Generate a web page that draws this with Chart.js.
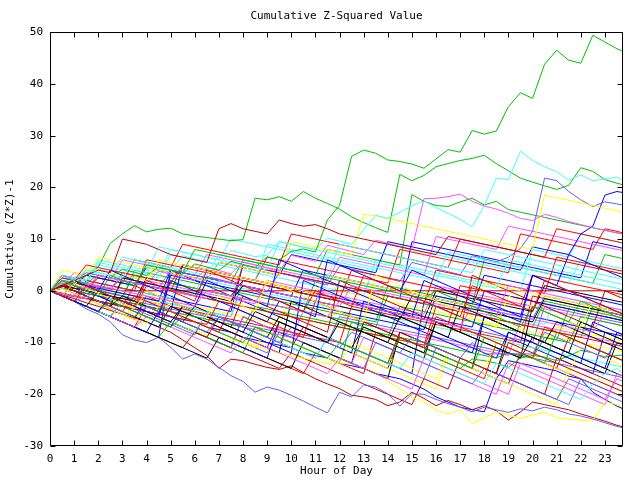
<!DOCTYPE html>
<html>
<head>
<meta charset="utf-8">
<script src="https://cdn.jsdelivr.net/npm/chart.js@4.4.1/dist/chart.umd.min.js"></script>
<style>
html, body { margin: 0; background: #fff; }
#wrap { width: 640px; height: 480px; }
</style>
</head>
<body>
<div id="wrap"><canvas id="chart" width="640" height="480"></canvas></div>
<script>
// x positions: half-hour samples (and hourly for the flat one)
const halfHours = [0,0.5,1,1.5,2,2.5,3,3.5,4,4.5,5,5.5,6,6.5,7,7.5,8,8.5,9,9.5,10,10.5,11,11.5,
                   12,12.5,13,13.5,14,14.5,15,15.5,16,16.5,17,17.5,18,18.5,19,19.5,20,20.5,21,21.5,
                   22,22.5,23,23.5,23.75];
const hours = [0,1,2,3,4,5,6,7,8,9,10,11,12,13,14,15,16,17,18,19,20,21,22,23,23.75];
const xTicks = [0,1,2,3,4,5,6,7,8,9,10,11,12,13,14,15,16,17,18,19,20,21,22,23];

// prominent walks
const greenTop = [0,1.2,2.0,1.4,3.1,2.5,4.2,3.6, 3.0,4.6,4.0,3.4,5.2,4.6,4.0,5.7, 5.1,4.5,6.6,6.0,7.6,8.1,7.5,13.7,
                  16.5,26.0,27.2,26.6,25.3,25.0,24.5,23.7, 25.5,27.3,26.8,31.0,30.3,30.9,35.6,38.3, 37.2,43.8,46.5,44.6,44.0,49.4,48.1,46.8, 46.3];
const greenHigh = [0,2.0,1.4,3.0,4.6,9.2,11.0,12.6, 11.4,11.9,12.1,11.0,10.6,10.3,10.0,9.7, 9.9,17.9,17.6,18.2,17.3,19.2,17.9,16.9,
                   15.8,14.3,13.2,12.2,11.3,22.5,21.3,22.3, 24.0,24.6,25.2,25.6,26.2,24.6,23.2,21.8, 21.0,20.3,19.6,20.4,23.8,23.1,21.5,20.8, 20.5];
const cyanHigh = [0,1.5,2.6,2.0,4.2,3.6,6.5,6.0, 5.2,4.5,4.0,6.8,6.2,5.6,5.0,7.8, 7.2,6.6,6.9,9.5,9.0,8.4,8.0,10.2,
                  9.6,9.0,11.8,14.6,14.0,15.2,16.4,17.4, 16.1,15.0,13.8,12.4,16.5,21.8,21.5,27.0, 25.2,24.0,23.0,21.4,22.4,21.3,21.6,22.0, 21.4];
const slateHigh = [0,-0.6,-1.2,0.8,0.2,-0.4,-1.0,-1.6, 1.5,0.9,0.3,-0.3,-0.9,2.8,2.2,1.6, 1.0,0.4,-0.2,3.5,2.9,2.3,1.7,1.1,
                   4.8,4.2,3.6,3.0,2.4,1.8,5.5,4.9, 4.3,3.7,3.1,6.8,6.2,5.6,6.5,8.2, 11.5,21.8,21.3,19.2,17.6,16.3,17.2,16.8, 16.6];
const magentaHigh = [0,-0.5,-1.0,1.4,0.8,0.2,2.6,2.0, 1.4,3.8,3.2,2.6,2.0,4.5,3.9,3.3, 5.6,5.0,4.4,3.8,6.9,6.3,5.7,8.8,
                     8.2,7.6,7.0,9.8,9.2,8.6,8.0,17.8, 17.9,18.2,18.7,17.3,16.4,15.8,15.0,14.0, 13.6,14.8,14.2,13.4,12.8,12.2,11.7,11.2, 11.0];
const slateLow = [0,-1,-2,-3.5,-4.5,-6,-8.5,-9.5, -10,-9,-10.9,-13.2,-12.2,-13.2,-14.8,-16.4, -17.5,-19.6,-18.6,-19.2,-20.2,-21.3,-22.5,-23.6,
                  -19.6,-20.5,-18.2,-18.6,-19.9,-22.3,-19.9,-20.0, -21,-21.8,-22.5,-23.4,-22.5,-23,-23.5,-22.8, -23.2,-22.5,-23,-23.8,-24.2,-24.8,-25.5,-26.2, -26.5];
const darkredLow = [0,-0.8,-1.5,-2.3,-3,-3.8,-4.5,-5.2, -6,-7,-8,-9.5,-11,-12.5,-15,-13.2, -13.5,-14.2,-14.8,-15.2,-14.5,-15.8,-17,-18,
                    -18.9,-20.2,-20.5,-21,-22.2,-21.5,-19.6,-20.8, -22.2,-21.2,-22,-23,-22.2,-23.2,-25,-23.4, -21.5,-22,-22.5,-23,-23.8,-24.5,-25.2,-26, -26.3];
const yellowLow = [0,-0.5,-1,-1.5,-2.5,-3,-4,-4.5, -5,-6,-6.5,-7,-7.5,-8.5,-9,-9.5, -10,-10.5,-11.5,-12,-12.5,-13,-13.5,-14.1,
                   -14.1,-14.1,-15,-15.7,-17.5,-18.9,-20.5,-21.5, -23,-23.8,-23,-25.7,-24.5,-23.4,-24,-24.7, -24,-23.5,-24.5,-24.8,-25,-25.2,-21.5,-22, -22.5];
const blueLow = [0,-0.5,-1,-1.5,-2,-2.5,-3,-3.5, -4,-4.5,-5,-5.5,-6,-7,-7.5,-8, -9,-9.5,-10,-10.5,-11,-12,-12.5,-13,
                 -14,-14.5,-15,-16,-16.5,-17,-18,-19, -20.5,-21.5,-22.5,-23,-23.4,-17,-13.5,-14, -14.5,-15,-15.5,-16.5,-17,-19.6,-21,-22.3, -22.8];
const darkredFlat = [0,1.5,0.8,0,0,0,0,0,0,0,0,0,0,0,0,0,0,0,0,0,0,0,0,0,0];

// the rest of the walks
const red1 = [0,-1,-2,1,0,-1,-2,-3, 2,1,0,-1,-2,4,3,2, 1,0,-1,-2,-3,-4,0,-1, -2,-3,3,2,1,0,-1,-2, -3,-4,-5,1,0,-1,-2,-3, -4,2,1,0,-1,-2,-3,-4, -4.5];
const green1 = [0,2,1,0,-1,3,2,1, 5,4.5,4,3.5,8,7.5,7,6.5, 6,5.5,5,4.5,4,3.5,3,2.5, 2,1.5,1,0.5,0,-0.5,-1,-1.5, 0,-1,-2,-3,-4,-5,-6,-7, -3,-4,-5,-6,-2,-3,-4,-5, -5.5];
const blue1 = [0,-1,-2,-3,-4,-1,-2,-3, -4,-5,2,1,0,-1,-2,-3, -4,-5,-6,-2,-3,-4,-5,6, 5,4,3,2,1,0,4,3, 2,1,0,-1,-2,-3,-4,-5, 3,2,1,0,-1,-2,-3,-4, -4.5];
const magenta1 = [0,-0.5,-1,-1.5,1,0.5,0,-0.5, -1,-1.5,-2,-2.5,-3,0,-0.5,-1, -1.5,-2,-2.5,-3,-3.5,-4,-4.5,-5, -2,-2.5,-3,-3.5,-4,-4.5,-5,-5.5, -6,-6.5,-7,-3,-3.5,-4,-4.5,-5, -5.5,-6,-6.5,-7,-7.5,-8,-4,-4.5, -4.8];
const cyan1 = [0,3,2,4,3.5,3,2.5,6, 5.5,5,4.5,4,3.5,3,7,6.5, 6,5.5,5,4.5,4,3.5,3,2.5, 9,8.5,8,7.5,7,6.5,6,5.5, 5,4.5,4,3.5,8,7.5,7,6.5, 6,5.5,5,4.5,4,3.5,3,2.5, 2.2];
const yellow1 = [0,-1,1.5,0.5,-0.5,-1.5,-2.5,-3.5, 0,-1,-2,-3,-4,-5,-1,-2, -3,-4,2,1,0,-1,-2,-3, -4,-5,-6,3,2,1,0,-1, -2,-3,-4,-5,-6,-7,-1,-2, -3,-4,-5,-6,-7,-2,-3,-4, -4.5];
const black1 = [0,-1,-2,-3,0,-1,-2,-3, -4,-5,-6,-3,-4,-5,-6,-7, -8,-4,-5,-6,-7,-8,-9,-10, -6,-7,-8,-9,-10,-5,-6,-7, -8,-9,-3,-4,-5,-6,-7,-8, -9,-10,-6,-7,-8,-9,-10,-11, -11.5];
const darkred1 = [0,1,2,3,4,3.5,10,9.5, 9,8,7,6.5,6,5.5,12,13, 12,11.5,11,13.7,13,12.5,12.8,12, 11,10.5,10,9.5,9,8.5,8,7.5, 7,10.5,10,9.5,9,8.5,8,7.5, 7,6.5,6,5.5,5,4.5,4,3.5, 3.2];
const slate1 = [0,-1,-2,-1,-2,-3,-4,-5, -3,-4,-5,-6,-7,-8,-5,-6, -7,-8,-9,-10,-7,-8,-9,-10, -11,-8,-9,-10,-11,-12,-9,-10, -11,-12,-13,-10,-12.2,-12.2,-12.2,-12.2, -12.2,-8,-9,-10,-11,-12,-13,-10, -10.5];
const red2 = [0,1,0,-1,-2,-3,-4,-1, -2,-3,-4,-5,-6,-7,-8,-3, -4,-5,-6,-7,-8,-9,-2,-3, -4,-5,-6,-7,-8,-9,-10,-11, -5,-6,-7,-8,-9,-10,-11,-12, -13,-7,-8,-9,-10,-11,-12,-13, -13.5];
const green2 = [0,-1,-2,-3,-4,-2,-3,-4, -5,-6,-7,-5,-6,-7,-8,-9, -10,-7,-8,-9,-10,-11,-12,-13, -10,-11,-12,-13,-14,-9,-10,-11, -12,-13,-14,-15,-9,-10,-11,-12, -13,-14,-8,-9,-10,-11,-12,-13, -13.5];
const blue2 = [0,3,2,1,0,4,3,2, 1,0,-1,-2,-3,2,1,0, -1,-2,-3,6,5,4,3,2, 1,0,-1,-2,-3,-4,-5,2, 1,0,-1,-2,-3,-4,-5,-6, 3,2,1,7,6,5,4,3, 2.5];
const magenta2 = [0,1.5,1,0.5,3,2.5,2,1.5, 1,0.5,0,-0.5,-1,-1.5,2,1.5, 1,0.5,0,-0.5,-1,-1.5,-2,-2.5, -3,1,0.5,0,-0.5,-1,-1.5,-2, -2.5,-3,-3.5,-4,-4.5,-5,1,0.5, 0,-0.5,-1,-1.5,-2,-2.5,-3,-3.5, -3.8];
const cyan2 = [0,-1,-2,-3,-4,-5,-2,-3, -4,-5,-6,-7,-8,-4,-5,-6, -7,-8,-9,-10,-11,-12,-13,-9, -10,-11,-12,-13,-14,-15,-12,-13, -14,-15,-16,-17,-18,-14,-15,-16, -17,-18,-19,-20,-21,-18,-16,-15, -16];
const yellow2 = [0,2,1,4.5,4,3.5,3,2.5, 2,6,5.5,5,4.5,4,3.5,3, 2.5,2,1.5,1,0.5,0,-0.5,3, 2.5,2,1.5,1,0.5,0,-0.5,-1, -1.5,-2,-2.5,-3,1.5,1,0.5,0, -0.5,-1,-1.5,-2,-2.5,-3,-3.5,-4, -4.2];
const black2 = [0,1,0,-1,-2,-3,-1,-2, -3,-4,-5,-6,-3,-4,-5,-6, -7,-8,-9,-5,-6,-7,-8,-9, -10,-11,-7,-8,-9,-10,-11,-12, -6,-7,-8,-9,-10,-11,-12,-13, -9,-10,-11,-12,-6,-7,-8,-9, -9.5];
const darkred2 = [0,-1,-2,-3,-4,-5,-2,-3, -4,-5,-6,-7,-8,-9,-5,-6, -7,-8,-9,-10,-11,-7,-8,-9, -10,-11,-12,-13,-14,-8,-9,-10, -11,-12,-13,-14,-15,-16,-10,-11, -12,-13,-14,-15,-16,-17,-18,-19, -19.5];
const slate2 = [0,1,2,3.5,3,2.5,2,1.5, 1,0.5,4,3.5,3,2.5,2,1.5, 1,0.5,0,-0.5,-1,-1.5,-2,3, 2.5,2,1.5,1,0.5,0,-0.5,-1, -1.5,-2,-2.5,-3,-3.5,-4,-4.5,-5, -5.5,-1,-1.5,-2,-2.5,-3,-3.5,-4, -4.3];
const red3 = [0,-0.5,-1,-1.5,-2,-2.5,-3,-3.5, -4,-4.5,-5,-5.5,-6,-6.5,-2,-2.5, -3,-3.5,-4,-4.5,-5,-5.5,-6,-6.5, -7,-7.5,-8,-8.5,-9,-9.5,-10,-10.5, -3,-3.5,-4,-4.5,-5,-5.5,-6,-6.5, -7,-7.5,-8,-8.5,-9,-9.5,-10,-10.5, -10.8];
const blue3 = [0,2,1,0,-1,-2,-3,-4, -5,-6,-7,-3,-4,-5,-6,-7, -8,-9,-10,-11,-12,2,1,0, -1,-2,-3,-4,-5,-6,-7,-8, -9,-10,-11,-12,-5,-6,-7,-8, -9,-10,-11,-12,-13,-14,-15,-8, -8.5];
const green3 = [0,0.5,0,-0.5,-1,-1.5,-2,-2.5, -3,-3.5,-4,-4.5,-5,-5.5,-6,-6.5, -7,-3,-3.5,-4,-4.5,-5,-5.5,-6, -6.5,-7,-7.5,-8,-8.5,-9,-9.5,-10, -10.5,-11,-11.5,-12,-12.5,-13,-12,-12.5, -13,-9,-9.5,-10,-5,-5.5,-6,-6.5, -6.8];
const magenta3 = [0,-1,-2,-3,-4,-5,-6,-7, -5,-6,-7,-8,-9,-10,-11,-12, -9,-10,-11,-12,-13,-14,-15,-16, -13,-14,-15,-16,-17,-18,-19,-13, -14,-15,-16,-17,-18,-19,-20,-14, -15,-16,-17,-18,-19,-20,-21,-17, -17.5];
const cyan3 = [0,3,2.5,2,5.5,5,4.5,4, 3.5,8.5,8,7.5,7,6.5,6,5.5, 5,4.5,4,9.5,9,8.5,8,7.5, 7,6.5,6,5.5,5,4.5,4,3.5, 3,2.5,2,1.5,1,0.5,6,5.5, 5,4.5,4,3.5,3,2.5,2,1.5, 1.2];
const yellow3 = [0,0.5,-0.5,-1.5,-2.5,-3.5,-4.5,-5.5, -6.5,-3,-4,-5,-6,-7,-8,-9, -10,-11,-8,-9,-10,-11,-12,-13, -14,-10,-11,-12,-13,-14,-15,-16, -17,-12,-13,-14,-15,-10,-11,-12, -13,-14,-15,-16,-11,-12,-13,-14, -14.5];
const black3 = [0,1,0,-1,-2,-3,2.5,2, 1.5,1,0.5,0,-0.5,-1,-1.5,-2, 1,0.5,0,-0.5,-1,-1.5,-2,-2.5, -3,-3.5,-4,-4.5,-5,-5.5,-1,-1.5, -2,-2.5,-3,-3.5,-4,-4.5,-5,-5.5, -6,-1.5,-2,-2.5,-3,-3.5,-4,-4.5, -4.8];
const darkred3 = [0,2,1,0,-1,-2,-3,1, 0,-1,-2,-3,-4,-5,-6,-7, -1,-2,-3,-4,-5,-6,-7,-8, 2,1,0,-1,-2,-3,-4,-5, -6,-7,-8,3,2,1,0,-1, -2,-3,-4,-5,-6,-7,0,-1, -1.5];
const slate3 = [0,-1,-2,0.5,-0.5,-1.5,-2.5,-3.5, -4.5,-5.5,-6.5,-7.5,-8.5,-4,-5,-6, -7,-8,-9,-10,-11,-12,-13,-9, -10,-11,-12,-13,-14,-15,-16,-17, -11,-12,-13,-14,-15,-16,-17,-18, -19,-20,-21,-17,-18,-19,-20,-21, -21.5];
const red4 = [0,2.5,2,5,4.5,4,3.5,3, 2.5,2,1.5,5,4.5,4,3.5,3, 2.5,2,1.5,1,0.5,0,-0.5,-1, -1.5,4,3.5,3,2.5,2,1.5,1, 0.5,0,-0.5,-1,-1.5,-2,-2.5,-3, 3,2.5,2,1.5,1,0.5,0,-0.5, -0.8];
const blue4 = [0,-1,-2,-3,-4,-5,-6,-7, -8,-4,-5,-6,-7,-8,-9,-10, -11,-12,-13,-6,-7,-8,-9,-10, -11,-12,-2,-3,-4,-5,-6,-7, -8,-9,-10,-11,-12,-13,-8,-9, -10,-11,-12,-13,-14,-6,-7,-8, -8.5];
const green4 = [0,-1,-2,-3,-4,-5,-6,-7, -8,-9,-6,-7,-8,-9,-10,-11, -12,-7,-8,-9,-10,-11,-12,-13, -14,-6,-7,-8,-9,-10,-11,-12, -13,-14,-15,-13.2,-13.5,-14,-14.8,-13, -12.5,-12.8,-13.5,-12.6,-11.5,-12,-12.8,-12.5, -12.4];
const magenta4 = [0,2.5,2,1.5,1,0.5,3,2.5, 2,1.5,1,0.5,0,-0.5,-1,-1.5, -2,-2.5,2,1.5,1,0.5,0,-0.5, -1,-1.5,-2,-2.5,-3,-3.5,-4,-4.5, 1,0.5,0,-0.5,-1,-1.5,-2,-2.5, -3,-3.5,-4,-4.5,-5,-5.5,-6,-6.5, -6.8];
const cyan4 = [0,1.5,1,4,3.5,3,2.5,2, 1.5,1,0.5,0,-0.5,4,3.5,3, 2.5,2,9,8.5,8,7.5,7,6.5, 6,5.5,5,4.5,4,3.5,3,2.5, 2,7.5,7,6.5,6,5.5,5,4.5, 4,3.5,3,2.5,2,1.5,1,0.5, 0.2];
const yellow4 = [0,4,3.5,3,6.5,6,5.5,5, 4.5,4,3.5,3,2.5,2,5.5,5, 4.5,4,3.5,3,9.5,9,8.5,8, 7.5,7,14.8,14.5,14,13.5,13,12.5, 12,11.5,11,10.5,10,9.5,9,8.5, 8,18.5,18,17.5,17,16.5,16,15.5, 15.2];
const black4 = [0,-1,-2,-3,-4,-5,-6,-7, -8,-9,-10,-11,-12,-13,-9,-10, -11,-12,-13,-14,-15,-10,-11,-12, -13,-14,-15,-16,-17,-8,-9,-10, -11,-12,-13,-14,-15,-16,-8,-9, -10,-11,-12,-13,-14,-15,-16,-10, -10.5];
const darkred4 = [0,-1,-2,-3,-4,-5,-6,-7, -8,-9,-10,-11,-8,-9,-10,-11, -12,-13,-14,-15,-12,-13,-14,-15, -16,-17,-18,-19,-20,-21,-22,-17, -18,-19,-13,-14,-15,-16,-17,-18, -19,-20,-13,-14,-15,-16,-17,-18, -18.5];
const slate4 = [0,1,0,-1,-2,-3,-4,-5, -2,-3,-4,-5,-6,-7,-8,-9, -10,-11,-12,-8,-9,-10,-11,-12, -13,-14,-15,-10,-11,-12,-13,-14, -15,-16,-17,-18,-15,-16,-17,-18, -19,-20,-21,-22,-17,-18,-19,-20, -20.5];
const red5 = [0,-0.5,-1,-1.5,-2,-2.5,-3,-3.5, 1,0.5,0,-0.5,-1,-1.5,-2,-2.5, 5,4.5,4,3.5,3,2.5,2,1.5, 1,0.5,0,-0.5,-1,-1.5,-2,-2.5, 4,3.5,3,2.5,2,1.5,1,0.5, 0,-0.5,6.5,6,5.5,5,4.5,4, 3.8];
const blue5 = [0,0.5,0,-0.5,-1,-1.5,-2,-2.5, -3,-3.5,-4,5,4.5,4,3.5,3, 2.5,2,1.5,1,0.5,0,-0.5,-1, -1.5,-2,-2.5,-3,-3.5,-4,-4.5,-5, -5.5,-6,-6.5,-7,0,-0.5,-1,-1.5, -2,-2.5,-3,-3.5,-4,-4.5,-5,-5.5, -5.8];
const green5 = [0,1.5,1,0.5,0,-0.5,-1,3, 2.5,2,1.5,1,0.5,0,-0.5,-1, -1.5,-2,-2.5,-3,-3.5,-4,-4.5,-5, -5.5,-6,-6.5,-7,-1,-1.5,-2,-2.5, -3,-3.5,-4,-4.5,-5,-5.5,-6,-6.5, -7,-7.5,-8,-8.5,-9,-3,-3.5,-4, -4.2];
const magenta5 = [0,-1,-2,-3,-4,-1,-2,-3, -4,-5,-6,-7,-8,-9,-10,-11, -5,-6,-7,-8,-9,-10,-11,-12, -13,-14,-9,-10,-11,-12,-13,-14, -15,-16,-17,-18,-19,-20,-14,-15, -16,-17,-18,-19,-20,-21,-22,-16, -16.5];
const cyan5 = [0,2,1.5,1,0.5,0,-0.5,-1, -1.5,-2,-2.5,-3,-3.5,-4,-4.5,-5, 1,0.5,0,-0.5,-1,-1.5,-2,-2.5, -3,-3.5,-4,-4.5,-5,-5.5,-6,-6.5, -7,-7.5,-8,-8.5,-9,-9.5,-10,-10.5, -11,-11.5,-12,-12.5,-13,-13.5,-14,-14.5, -14.8];
const yellow5 = [0,-1,-2,-3,-4,-5,-6,-2, -3,-4,-5,-6,-7,-8,-9,-10, -11,-12,-5,-6,-7,-8,-9,-10, -11,-12,-13,-14,-15,-16,-17,-18, -19,-13,-14,-15,-16,-17,-18,-19, -20,-21,-22,-15,-16,-17,-18,-19, -19.5];
const black5 = [0,1,0,-1,-2,-3,-4,-5, -6,-7,-3,-4,-5,-6,-7,-8, -9,-10,-11,-12,-2,-3,-4,-5, -6,-7,-8,-9,-10,-11,-12,-13, -6,-7,-8,-9,-10,-11,-12,-13, -3,-4,-5,-6,-7,-8,-9,-10, -10.5];
const darkred5 = [0,0.5,-0.5,-1.5,-2.5,-3.5,-4.5,-5.5, -1,-2,-3,-4,-5,-6,-7,-8, -9,-10,-11,-6,-7,-8,-9,-10, -11,-12,-13,-14,-15,-9,-10,-11, -12,-13,-14,-15,-16,-17,-18,-12, -13,-14,-15,-9,-10,-11,-12,-13, -13.5];
const slate5 = [0,2,1.5,1,0.5,0,-0.5,-1, -1.5,-2,-2.5,-3,-3.5,-4,-4.5,-5, 2,1.5,1,0.5,0,-0.5,-1,-1.5, -2,-2.5,-3,-3.5,-4,-4.5,-5,-5.5, -6,-6.5,-7,-7.5,-8,-8.5,-9,-9.5, -10,-3,-3.5,-4,-4.5,-5,-5.5,-6, -6.2];
const red6 = [0,3,2.5,2,1.5,1,0.5,0, 6,5.5,5,4.5,4,3.5,3,2.5, 2,1.5,1,0.5,0,-0.5,-1,-1.5, -2,-2.5,-3,-3.5,-4,-4.5,-5,-5.5, -6,-6.5,1,0.5,0,-0.5,-1,-1.5, -2,-2.5,-3,-3.5,-4,-4.5,-5,-5.5, -5.8];
const blue6 = [0,-1,1.5,1,0.5,0,-0.5,-1, -1.5,-2,4,3.5,3,2.5,2,1.5, 1,0.5,0,-0.5,-1,4,3.5,3, 2.5,2,1.5,1,0.5,0,-0.5,-1, -1.5,-2,-2.5,-3,3,2.5,2,1.5, 1,0.5,0,-0.5,-1,-1.5,-2,-2.5, -2.8];
const blue7 = [0,1.5,1,3,2.5,2,1.5,1, 4.5,4,3.5,3,2.5,2,5.5,5, 4.5,4,3.5,3,7,6.5,6,5.5, 5,4.5,4,3.5,9.5,9,8.5,8, 7.5,7,6.5,6,5.5,5,4.5,4, 8.5,8,7.5,7,11,12.5,18.5,19.2, 19.0];
const green6 = [0,2,1.5,1,0.5,0,3.5,3, 2.5,2,1.5,1,0.5,0,-0.5,-1, -1.5,-2,-2.5,-3,-3.5,-4,2,1.5, 1,0.5,0,-0.5,-1,-1.5,-2,-2.5, -3,-3.5,-4,-4.5,-5,-5.5,-6,-6.5, -7,-2,-2.5,-3,-3.5,-4,-4.5,-5, -5.2];
const magenta6 = [0,0.5,0,-0.5,-1,-1.5,-2,-2.5, -3,-3.5,-4,-4.5,-5,-5.5,-6,-6.5, -7,-7.5,-8,-8.5,-9,-4,-4.5,-5, -5.5,-6,-6.5,-7,-7.5,-8,-8.5,-9, -9.5,-10,-10.5,-11,-11.5,-12,-12.5,-6, -6.5,-7,-7.5,-8,-8.5,-9,-9.5,-10, -10.2];
const cyan6 = [0,1,2.5,2,1.5,1,0.5,0, -0.5,-1,-1.5,3,2.5,2,1.5,1, 0.5,0,-0.5,-1,-1.5,-2,-2.5,-3, 2,1.5,1,0.5,0,-0.5,-1,-1.5, -2,-2.5,-3,-3.5,-4,-4.5,-5,-5.5, -6,-6.5,-1,-1.5,-2,-2.5,-3,-3.5, -3.8];
const yellow6 = [0,1.5,1,0.5,0,-0.5,-1,-1.5, -2,-2.5,-3,1,0.5,0,-0.5,-1, -1.5,-2,-2.5,-3,-3.5,-4,-4.5,-5, 0,-0.5,-1,-1.5,-2,-2.5,-3,-3.5, -4,-4.5,-5,-5.5,-6,-6.5,-7,-7.5, -8,-8.5,-9,-9.5,-10,-10.5,-11,-11.5, -11.8];
const black6 = [0,-1,-2,-3,-4,-5,-2,-3, -4,-5,-6,-7,-8,-9,-10,-11, -5,-6,-7,-8,-9,-10,-11,-12, -13,-14,-6,-7,-8,-9,-10,-11, -12,-13,-14,-15,-5,-6,-7,-8, -9,-10,-11,-12,-13,-14,-15,-16, -16.5];
const red7 = [0,-1,-2,-3,-4,-5,-6,-7, -3,-4,-5,-6,-7,-8,-9,-10, -11,-12,-13,-14,-15,-16,-12,-13, -14,-15,-16,-8,-9,-10,-11,-12, -13,-14,-15,-16,-17,-10,-11,-12, -13,-14,-15,-16,-17,-18,-19,-20, -20.5];
const blue8 = [0,-0.5,-1,-1.5,-2,-2.5,-3,-3.5, -4,-4.5,3,2.5,2,1.5,1,0.5, 0,-0.5,-1,-1.5,-2,-2.5,-3,-3.5, -4,-4.5,-5,-5.5,-6,-6.5,-7,-7.5, -1,-1.5,-2,-2.5,-3,-3.5,-4,-4.5, -5,-5.5,-6,-6.5,-7,-7.5,-8,-8.5, -8.8];
const red8 = [0,1,0.5,0,2.5,2,1.5,6, 5.5,5,4.5,9,8.5,8,7.5,7, 6.5,6,5.5,5,11,10.5,10,9.5, 9,8.5,8,7.5,7,6.5,6,5.5, 5,4.5,10,9.5,9,8.5,8,7.5, 7,6.5,12,11.5,11,10.5,10,9.5, 9.2];
const green7 = [0,-0.5,-1,-1.5,-2,-2.5,2,1.5, 1,0.5,0,-0.5,-1,-1.5,-2,-2.5, -3,-3.5,-4,-4.5,-5,-5.5,-6,-6.5, -7,-7.5,-8,-8.5,-9,-3,-3.5,-4, -4.5,-5,-5.5,-6,-6.5,-7,-7.5,-8, -8.5,-9,-9.5,-3.5,-4,-4.5,-5,-5.5, -5.8];
const slate6 = [0,1,0.5,0,-0.5,-1,-1.5,-2, -2.5,-3,-3.5,-4,-4.5,-5,-5.5,-6, -6.5,-7,-7.5,-8,-8.5,-9,-9.5,-10, -5,-5.5,-6,-6.5,-7,-7.5,-8,-8.5, -9,-9.5,-10,-10.5,-11,-11.5,-12,-12.5, -13,-13.5,-14,-14.5,-15,-15.5,-16,-16.5, -16.8];
const magenta7 = [0,1,3.5,3,2.5,2,6,5.5, 5,4.5,4,3.5,3,7,6.5,6, 5.5,5,4.5,4,3.5,3,2.5,2, 6.5,6,5.5,5,4.5,4,3.5,3, 10.5,10,9.5,9,8.5,8,12.5,12, 11.5,11,10.5,10,9.5,9,8.5,8, 7.8];
const cyan7 = [0,2.5,2,1.5,6,5.5,5,4.5, 4,3.5,8,7.5,7,6.5,6,10, 9.5,9,8.5,8,7.5,7,6.5,6, 5.5,5,4.5,4,9,8.5,8,7.5, 7,6.5,6,5.5,5,4.5,4,3.5, 3,2.5,2,1.5,6,5.5,5,4.5, 4.3];
const blue9 = [0,-1,-2,-3,-4,-5,-6,-7, -8,-9,4,3,2,1,0,-1, -2,-3,-4,-5,-6,-7,-8,-9, -10,-11,-12,-13,-14,-15,-16,-2, -3,-4,-5,-6,-7,-8,-9,-10, -11,-12,-13,-14,-15,-16,-8,-9, -9.5];
const red9 = [0,1.5,1,0.5,0,-0.5,-1,-1.5, -2,-2.5,-3,-3.5,-4,-4.5,-5,-5.5, -6,-6.5,-7,-7.5,-8,-8.5,-9,-9.5, -10,-3,-3.5,-4,-4.5,-5,-5.5,-6, -6.5,-7,-7.5,-8,-8.5,-9,-9.5,-10, -1,-1.5,-2,-2.5,-3,-3.5,-4,-4.5, -4.8];
const black7 = [0,1,0.5,0,-0.5,-1,-1.5,-2, 2.5,2,1.5,1,0.5,0,-0.5,-1, 2,1.5,1,0.5,0,-0.5,-1,-1.5, -2,-2.5,-3,-3.5,-4,-4.5,-5,-5.5, 0,-0.5,-1,-1.5,-2,-2.5,-3,-3.5, -4,1,0.5,0,-0.5,-1,-1.5,-2, -2.2];
const yellow7 = [0,-1,2,1.5,1,0.5,0,-0.5, -1,-1.5,-2,-2.5,-3,-3.5,-4,-4.5, -5,-5.5,-6,-6.5,-1,-1.5,-2,-2.5, -3,-3.5,-4,-4.5,-5,-5.5,-6,-6.5, -7,-7.5,-8,-8.5,-9,-9.5,-10,-10.5, -11,-11.5,-7,-7.5,-8,-8.5,-9,-9.5, -9.8];
const green8 = [0,1.5,1,3,2.5,2,1.5,1, 5,4.5,4,3.5,3,2.5,2,1.5, 6,5.5,5,4.5,4,3.5,3,8, 7.5,7,6.5,6,5.5,5,18.6,17.3, 16.5,16.3,17.2,17.9,16.6,17.3,15.7,15.2, 14.7,14.2,13.7,13.2,12.7,12.2,11.7,11.2, 11.0];
const red10 = [0,1,0.5,0,3,2.5,2,1.5, 1,0.5,0,5,4.5,4,3.5,3, 2.5,2,6.5,6,5.5,5,4.5,4, 3.5,3,2.5,2,1.5,8,7.5,7, 6.5,6,5.5,5,4.5,4,3.5,11, 10.5,10,9.5,9,8.5,8,12,11.5, 11.2];
const cyan8 = [0,2,1.5,1,5,4.5,4,3.5, 3,2.5,7,6.5,6,5.5,5,4.5, 4,3.5,3,2.5,2,1.5,1,0.5, 0,-0.5,-1,6,5.5,5,4.5,4, 3.5,3,2.5,2,1.5,1,0.5,0, 8,7.5,7,6.5,11,10.5,10,9.5, 9.2];
const blue10 = [0,-0.5,-1,2,1.5,1,0.5,0, -0.5,-1,-1.5,-2,-2.5,-3,-3.5,-4, 5,4.5,4,3.5,3,2.5,2,1.5, 1,0.5,0,-0.5,-1,-1.5,9.5,9, 8.5,8,7.5,7,6.5,6,5.5,5, 4.5,4,3.5,3,2.5,9.5,9,8.5, 8.2];
const green9 = [0,1,0.5,0,-0.5,-1,-1.5,4, 3.5,3,2.5,2,1.5,1,0.5,0, -0.5,-1,-1.5,-2,-2.5,-3,-3.5,-4, -4.5,-5,-5.5,-6,1,0.5,0,-0.5, -1,-1.5,-2,-2.5,6,5.5,5,4.5, 4,3.5,3,2.5,2,1.5,7,6.5, 6.2];

const RED = '#ff0000', GREEN = '#00c000', BLUE = '#0000ff', MAGENTA = '#ff50ff', CYAN = '#40ffff',
      YELLOW = '#ffff00', BLACK = '#000000', DARKRED = '#c00000', SLATE = '#6060ff';

const lines = [
  [red1, RED], [green1, GREEN], [blue1, BLUE], [magenta1, MAGENTA], [cyan1, CYAN], [yellow1, YELLOW], [black1, BLACK], [darkred1, DARKRED], [slate1, SLATE],
  [red2, RED], [green2, GREEN], [blue2, BLUE], [magenta2, MAGENTA], [cyan2, CYAN], [yellow2, YELLOW], [black2, BLACK], [darkred2, DARKRED], [slate2, SLATE],
  [red3, RED], [greenTop, GREEN], [blue3, BLUE], [magenta3, MAGENTA], [cyan3, CYAN], [yellow3, YELLOW], [black3, BLACK], [darkred3, DARKRED], [slate3, SLATE],
  [red4, RED], [green3, GREEN], [blue4, BLUE], [magentaHigh, MAGENTA], [cyanHigh, CYAN], [yellow4, YELLOW], [black4, BLACK], [darkredFlat, DARKRED, hours], [slateLow, SLATE],
  [red5, RED], [green4, GREEN], [blue5, BLUE], [magenta4, MAGENTA], [cyan4, CYAN], [yellowLow, YELLOW], [black5, BLACK], [darkred4, DARKRED], [slate4, SLATE],
  [red6, RED], [greenHigh, GREEN], [blue6, BLUE], [magenta5, MAGENTA], [cyan5, CYAN], [yellow5, YELLOW], [black6, BLACK], [darkredLow, DARKRED], [slateHigh, SLATE],
  [red7, RED], [green5, GREEN], [blue7, BLUE], [magenta6, MAGENTA], [cyan6, CYAN], [yellow6, YELLOW], [black7, BLACK], [darkred5, DARKRED], [slate5, SLATE],
  [red8, RED], [green6, GREEN], [blue8, BLUE], [magenta7, MAGENTA], [cyan7, CYAN], [yellow7, YELLOW], [slate6, SLATE],
  [red9, RED], [green7, GREEN], [blue9, BLUE], [blueLow, BLUE], [green8, GREEN],
  [red10, RED], [cyan8, CYAN], [blue10, BLUE], [green9, GREEN]
];

const datasets = lines.map(([ys, color, xs = halfHours]) => ({
  data: ys.slice(0, xs.length).map((v, i) => ({ x: xs[i], y: v })),
  borderColor: color,
  borderWidth: 1,
  pointRadius: 0,
  fill: false,
  tension: 0
}));

// gnuplot-style frame with inward ticks on all four sides
const frame = {
  id: 'frame',
  afterDatasetsDraw(chart) {
    const { ctx, chartArea: a, scales: { x, y } } = chart;
    const L = Math.round(a.left) + 0.5, R = Math.round(a.right) - 0.5;
    const T = Math.round(a.top) + 0.5, B = Math.round(a.bottom) - 0.5;
    ctx.save();
    ctx.strokeStyle = '#000';
    ctx.lineWidth = 1;
    ctx.beginPath();
    ctx.rect(L, T, R - L, B - T);
    x.ticks.forEach(t => {
      const px = Math.round(x.getPixelForValue(t.value)) + 0.5;
      ctx.moveTo(px, B); ctx.lineTo(px, B - 5);
      ctx.moveTo(px, T); ctx.lineTo(px, T + 5);
    });
    y.ticks.forEach(t => {
      const py = Math.round(y.getPixelForValue(t.value)) + 0.5;
      ctx.moveTo(L, py); ctx.lineTo(L + 5, py);
      ctx.moveTo(R, py); ctx.lineTo(R - 5, py);
    });
    ctx.stroke();
    ctx.restore();
  }
};

const font = { family: 'DejaVu Sans Mono', size: 11, weight: 'normal' };

new Chart(document.getElementById('chart'), {
  type: 'line',
  data: { datasets },
  options: {
    responsive: false,
    animation: false,
    events: [],
    layout: { padding: { left: 4, right: 17, top: 0, bottom: 2 } },
    plugins: {
      legend: { display: false },
      tooltip: { enabled: false },
      title: {
        display: true,
        text: 'Cumulative Z-Squared Value',
        fullSize: false,
        color: '#000',
        font: font,
        padding: { top: 10, bottom: 9 }
      }
    },
    scales: {
      x: {
        type: 'linear',
        min: 0,
        max: 23.75,
        afterBuildTicks: s => { s.ticks = xTicks.map(v => ({ value: v })); },
        afterFit: s => { s.height = 32; },
        grid: { display: false, drawTicks: false },
        border: { display: false },
        ticks: { color: '#000', font: font, padding: 7, autoSkip: false, maxRotation: 0 },
        title: { display: true, text: 'Hour of Day', color: '#000', font: font, padding: { top: 2, bottom: 0 } }
      },
      y: {
        type: 'linear',
        min: -30,
        max: 50,
        afterFit: s => { s.width = 46; },
        grid: { display: false, drawTicks: false },
        border: { display: false },
        ticks: { color: '#000', font: font, padding: 7, stepSize: 10 },
        title: { display: true, text: 'Cumulative (Z*Z)-1', color: '#000', font: font, padding: { top: 0, bottom: 0 } }
      }
    }
  },
  plugins: [frame]
});
</script>
</body>
</html>
